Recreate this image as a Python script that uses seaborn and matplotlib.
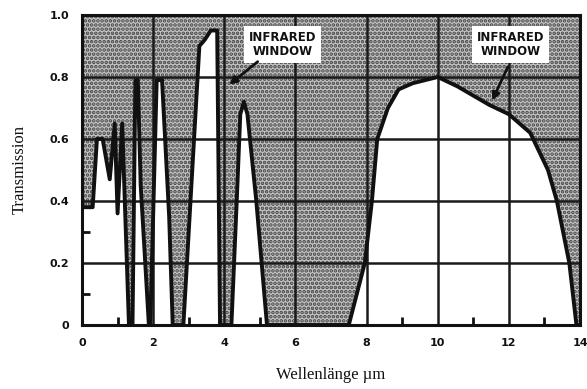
import matplotlib
matplotlib.use("Agg")
import matplotlib.pyplot as plt
import seaborn as sns
import pandas as pd

# --- data ---
wavelength = [0.0, 0.3, 0.42, 0.58, 0.78, 0.92, 1.0, 1.13, 1.32, 1.42, 1.5, 1.57,
              1.65, 1.88, 1.92, 2.1, 2.25, 2.45, 2.55, 2.85, 3.3, 3.45, 3.62,
              3.8, 3.88, 4.2, 4.35, 4.45, 4.55, 4.65, 4.9, 5.2, 7.5, 7.95, 8.15,
              8.3, 8.6, 8.9, 9.3, 10.0, 10.55, 11.45, 12.0, 12.6, 13.1, 13.35,
              13.7, 13.9, 14.0]
transmission = [0.38, 0.38, 0.6, 0.6, 0.47, 0.65, 0.36, 0.65, 0.0, 0.0, 0.79, 0.79,
                0.45, 0.0, 0.0, 0.79, 0.79, 0.35, 0.0, 0.0, 0.9, 0.92, 0.95,
                0.95, 0.0, 0.0, 0.4, 0.68, 0.72, 0.68, 0.4, 0.0, 0.0, 0.2, 0.4,
                0.6, 0.7, 0.76, 0.78, 0.8, 0.77, 0.71, 0.68, 0.62, 0.5, 0.4,
                0.2, 0.0, 0.0]
x_ticks = [0, 2, 4, 6, 8, 10, 12, 14]
x_ticklabels = ["0", "2", "4", "6", "8", "10", "12", "14"]
y_ticks = [0, 0.2, 0.4, 0.6, 0.8, 1.0]
y_ticklabels = ["0", "0.2", "0.4", "0.6", "0.8", "1.0"]
window_labels = ["INFRARED\nWINDOW", "INFRARED\nWINDOW"]
window_text_pos = [(5.63, 0.905), (12.05, 0.905)]
window_arrow_tip = [(4.08, 0.77), (11.5, 0.716)]
window_arrow_tail = [(5.0, 0.855), (12.0, 0.84)]

df = pd.DataFrame({"Wellenlänge": wavelength, "Transmission": transmission})

sns.set_theme(style="white")
plt.rcParams["hatch.linewidth"] = 1.8

fig = plt.figure(figsize=(5.87, 3.89), dpi=100)
ax = fig.add_axes([82 / 587, 1 - 325 / 389, (580 - 82) / 587, (325 - 15) / 389])

# stippled (absorbed) region above the curve
ax.fill_between(df["Wellenlänge"], df["Transmission"], 1.0,
                facecolor="#c4c4c4", edgecolor="#444444", hatch="....",
                linewidth=0, zorder=1)

# grid
for xv in x_ticks:
    ax.axvline(xv, color="#1a1a1a", lw=1.8, zorder=2)
for yv in y_ticks:
    ax.axhline(yv, color="#1a1a1a", lw=1.8, zorder=2)

sns.lineplot(data=df, x="Wellenlänge", y="Transmission", ax=ax,
             color="#111111", linewidth=2.8, zorder=4, sort=False)

# annotations
for lab, (tx, ty), tip, tail in zip(window_labels, window_text_pos,
                                    window_arrow_tip, window_arrow_tail):
    ax.text(tx, ty, lab, ha="center", va="center", fontsize=8.5,
            fontweight="bold", color="#111111", linespacing=1.1,
            bbox=dict(boxstyle="square,pad=0.4", facecolor="white",
                      edgecolor="none"), zorder=5)
    ax.annotate("", xy=tip, xytext=tail,
                arrowprops=dict(arrowstyle="-|>", color="#111111", lw=2,
                                mutation_scale=11), zorder=5)

ax.set_xlim(0, 14)
ax.set_ylim(0, 1.0)
ax.set_xticks(x_ticks)
ax.set_xticklabels(x_ticklabels, fontweight="bold", fontsize=8)
ax.set_yticks(y_ticks)
ax.set_yticklabels(y_ticklabels, fontweight="bold", fontsize=8)
ax.set_xticks([1, 3, 5, 7, 9, 11, 13], minor=True)
ax.set_yticks([0.1, 0.3, 0.5, 0.7, 0.9], minor=True)
ax.tick_params(which="major", length=0, pad=9, colors="#111111")
ax.tick_params(which="minor", direction="in", length=6, width=2,
               color="#111111", top=True, right=True, bottom=True, left=True)
for s in ax.spines.values():
    s.set_color("#111111")
    s.set_linewidth(2.2)
    s.set_zorder(6)

ax.set_xlabel("Wellenlänge µm", fontsize=12, family="Liberation Serif",
              labelpad=14, color="#111111")
ax.set_ylabel("Transmission", fontsize=12, family="Liberation Serif",
              labelpad=16, color="#111111")

fig.savefig("out.png", dpi=100)
